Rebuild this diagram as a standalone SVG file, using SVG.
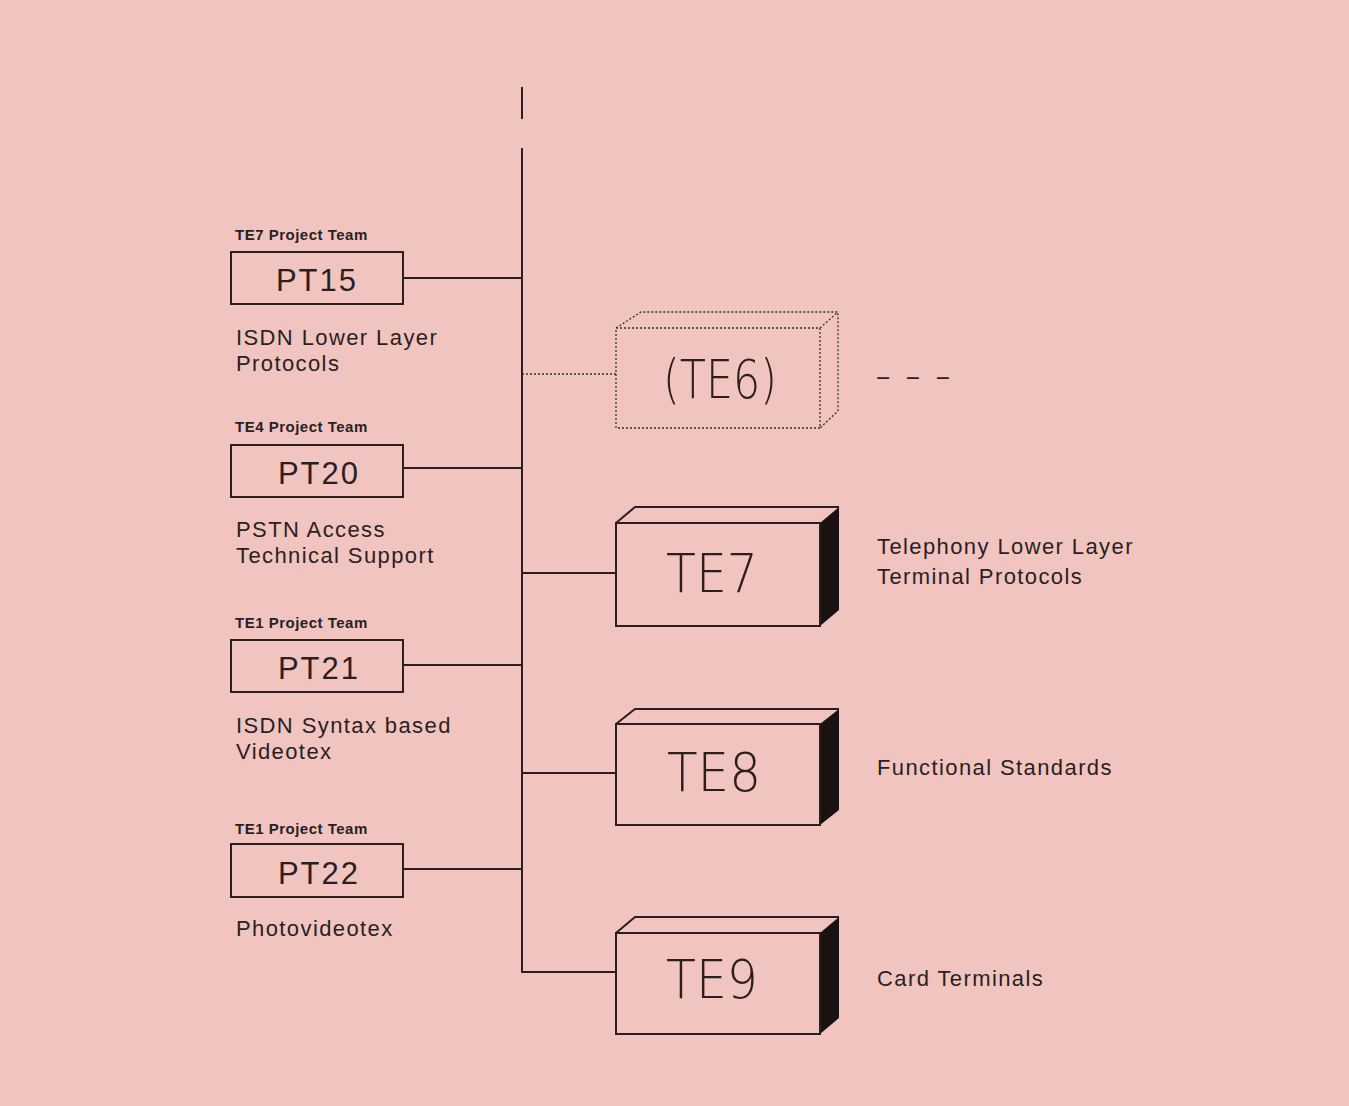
<svg xmlns="http://www.w3.org/2000/svg" width="1349" height="1106" viewBox="0 0 1349 1106">
<style>
.ln{stroke:#2a1f1f;stroke-width:2;fill:none}
.dot{stroke:#3a2f2f;stroke-width:1.3;fill:none;stroke-dasharray:2 2}
.box{fill:none;stroke:#2a1f1f;stroke-width:2}
.team{font-family:"Liberation Sans",Arial,sans-serif;font-size:15px;font-weight:bold;fill:#2a1f1f;letter-spacing:0.5px}
.pt{font-family:"Liberation Sans",Arial,sans-serif;font-size:31px;fill:#2a1f1f;text-anchor:middle;letter-spacing:2px}
.desc{font-family:"Liberation Sans",Arial,sans-serif;font-size:22px;fill:#2a1f1f;letter-spacing:1.4px}
.te{font-family:"DejaVu Sans","Liberation Sans",sans-serif;font-weight:200;font-size:54px;fill:#2a1f1f;text-anchor:middle}
</style>
<rect width="1349" height="1106" fill="#f1c4bf"/>
<g id="connectors">
<line class="ln" x1="522" y1="87" x2="522" y2="119"/>
<line class="ln" x1="522" y1="148" x2="522" y2="972"/>
<line class="ln" x1="403" y1="278" x2="522" y2="278"/>
<line class="ln" x1="403" y1="468" x2="522" y2="468"/>
<line class="ln" x1="403" y1="665" x2="522" y2="665"/>
<line class="ln" x1="403" y1="869" x2="522" y2="869"/>
<line class="dot" x1="522" y1="374" x2="616" y2="374"/>
<line class="ln" x1="522" y1="573" x2="616" y2="573"/>
<line class="ln" x1="522" y1="773" x2="616" y2="773"/>
<line class="ln" x1="521" y1="972" x2="616" y2="972"/>
</g>
<g id="pt15">
<text class="team" x="235" y="240">TE7 Project Team</text>
<rect class="box" x="231" y="252" width="172" height="52"/>
<text class="pt" x="317" y="291">PT15</text>
<text class="desc" x="236" y="345">ISDN Lower Layer</text>
<text class="desc" x="236" y="371">Protocols</text>
</g>
<g id="pt20">
<text class="team" x="235" y="432">TE4 Project Team</text>
<rect class="box" x="231" y="445" width="172" height="52"/>
<text class="pt" x="319" y="484">PT20</text>
<text class="desc" x="236" y="537">PSTN Access</text>
<text class="desc" x="236" y="563">Technical Support</text>
</g>
<g id="pt21">
<text class="team" x="235" y="628">TE1 Project Team</text>
<rect class="box" x="231" y="640" width="172" height="52"/>
<text class="pt" x="319" y="679">PT21</text>
<text class="desc" x="236" y="733">ISDN Syntax based</text>
<text class="desc" x="236" y="759">Videotex</text>
</g>
<g id="pt22">
<text class="team" x="235" y="834">TE1 Project Team</text>
<rect class="box" x="231" y="844" width="172" height="53"/>
<text class="pt" x="319" y="884">PT22</text>
<text class="desc" x="236" y="936">Photovideotex</text>
</g>
<g id="te6">
<path class="dot" d="M616,328 H820 V428 H616 Z M616,328 L641,312 H838 V411 L820,428 M820,328 L838,312"/>
<text class="te" x="720" y="398" textLength="114" lengthAdjust="spacingAndGlyphs">(TE6)</text>
<text x="875" y="384" font-family="Liberation Sans,Arial,sans-serif" font-size="22" fill="#2a1f1f" textLength="76" lengthAdjust="spacingAndGlyphs">- - -</text>
</g>
<g id="te7">
<polygon points="820,523 839,507 839,610 820,626" fill="#1a1212"/>
<path class="box" d="M616,523 H820 V626 H616 Z M616,523 L635,507 H839"/>
<text class="te" x="712" y="592" textLength="92" lengthAdjust="spacingAndGlyphs">TE7</text>
<text class="desc" x="877" y="554">Telephony Lower Layer</text>
<text class="desc" x="877" y="584">Terminal Protocols</text>
</g>
<g id="te8">
<polygon points="820,724 839,709 839,810 820,825" fill="#1a1212"/>
<path class="box" d="M616,724 H820 V825 H616 Z M616,724 L635,709 H839"/>
<text class="te" x="714" y="791" textLength="94" lengthAdjust="spacingAndGlyphs">TE8</text>
<text class="desc" x="877" y="775">Functional Standards</text>
</g>
<g id="te9">
<polygon points="820,933 839,917 839,1018 820,1034" fill="#1a1212"/>
<path class="box" d="M616,933 H820 V1034 H616 Z M616,933 L635,917 H839"/>
<text class="te" x="712" y="998" textLength="92" lengthAdjust="spacingAndGlyphs">TE9</text>
<text class="desc" x="877" y="986">Card Terminals</text>
</g>
</svg>
